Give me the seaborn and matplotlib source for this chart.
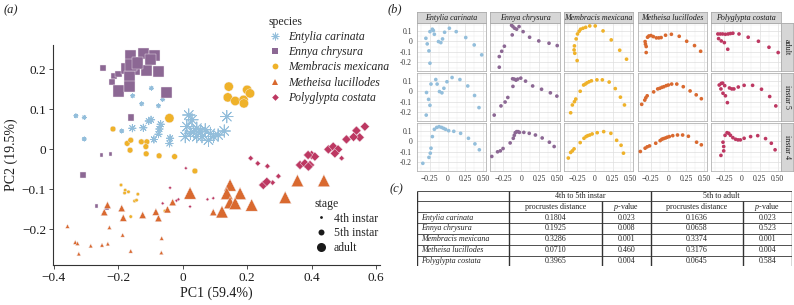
import matplotlib
matplotlib.use("Agg")
import numpy as np
import pandas as pd
import matplotlib.pyplot as plt
from matplotlib.lines import Line2D
from matplotlib.ticker import MultipleLocator
import seaborn as sns

# --- species / styling ---
SPECIES = ["Entylia carinata", "Ennya chrysura", "Membracis mexicana",
           "Metheisa lucillodes", "Polyglypta costata"]
COLORS = ["#93bedb", "#8c6894", "#efb22a", "#d9692f", "#bd3862"]
MARKERS = [(8, 2, 0), "s", "o", "^", "D"]
STAGES = ["4th instar", "5th instar", "adult"]
ROW_LABELS = ["adult", "instar 5", "instar 4"]

# --- panel (a): PCA scores, per species and stage ---
ENT_4_X = [-0.331, -0.305, -0.305, -0.155, -0.127, -0.097, -0.075, -0.062, -0.189]
ENT_4_Y = [0.083, 0.079, 0.025, 0.133, 0.113, 0.152, 0.108, 0.124, 0.045]
ENT_5_X = [-0.156, -0.122, -0.098, -0.068, -0.072, -0.075, -0.089, -0.039, -0.041, -0.105]
ENT_5_Y = [0.052, 0.053, 0.073, 0.062, 0.050, 0.037, 0.024, 0.027, 0.014, 0.070]
ENT_A_X = [0.019, 0.029, 0.013, 0.044, 0.024, 0.055, 0.070, 0.086, 0.060, 0.096,
           0.080, 0.044, 0.110, 0.137, 0.129, 0.008, 0.034]
ENT_A_Y = [0.085, 0.073, 0.056, 0.052, 0.039, 0.043, 0.048, 0.039, 0.031, 0.031,
           0.022, 0.031, 0.035, 0.081, 0.045, 0.031, 0.043]

ENN_4_X = [-0.252, -0.224, -0.267, -0.235]
ENN_4_Y = [-0.015, -0.012, -0.143, -0.148]
ENN_5_X = [-0.246, -0.214, -0.199, -0.220, -0.160, -0.310]
ENN_5_Y = [0.202, 0.183, 0.187, 0.167, 0.079, -0.065]
ENN_A_X = [-0.163, -0.120, -0.088, -0.075, -0.113, -0.149, -0.173, -0.165,
           -0.199, -0.165, -0.049, -0.101, -0.160, -0.140]
ENN_A_Y = [0.233, 0.238, 0.233, 0.193, 0.196, 0.198, 0.202, 0.181,
           0.145, 0.156, 0.142, 0.223, 0.210, 0.215]

MEM_4_X = [-0.191, -0.178, -0.168, -0.139, -0.149, -0.143, -0.161, -0.055, -0.180]
MEM_4_Y = [-0.090, -0.103, -0.107, -0.113, -0.130, -0.128, -0.169, -0.155, -0.110]
MEM_5_X = [-0.216, -0.172, -0.161, -0.128, -0.111, -0.114, -0.113, -0.073, -0.025, 0.038, -0.163]
MEM_5_Y = [0.050, 0.014, 0.022, 0.018, 0.018, 0.006, -0.012, -0.017, -0.019, -0.055, -0.003]
MEM_A_X = [0.143, 0.140, 0.163, 0.189, 0.200, 0.209, 0.190, -0.041]
MEM_A_Y = [0.156, 0.129, 0.120, 0.123, 0.148, 0.139, 0.114, 0.077]

MET_4_X = [-0.357, -0.227, -0.186, -0.065, -0.333, -0.326, -0.285, -0.250,
           -0.232, -0.161, -0.322, -0.066]
MET_4_Y = [-0.193, -0.196, -0.215, -0.223, -0.233, -0.236, -0.242, -0.240,
           -0.237, -0.255, -0.262, -0.259]
MET_5_X = [-0.233, -0.243, -0.189, -0.184, -0.124, -0.083, -0.075, -0.047, -0.031, 0.095]
MET_5_Y = [-0.140, -0.158, -0.148, -0.172, -0.165, -0.157, -0.173, -0.151, -0.133, -0.158]
MET_A_X = [0.023, 0.147, 0.137, 0.178, 0.147, 0.163, 0.122, 0.214, 0.318, 0.356, 0.438]
MET_A_Y = [-0.110, -0.090, -0.111, -0.111, -0.134, -0.136, -0.157, -0.140, -0.121, -0.079, -0.079]

POL_4_X = [0.010, -0.039, -0.062, -0.019, -0.013, 0.023, 0.077, 0.095]
POL_4_Y = [-0.048, -0.097, -0.136, -0.129, -0.126, -0.144, -0.126, -0.123]
POL_5_X = [0.211, 0.233, 0.263, 0.279, 0.297, 0.493]
POL_5_Y = [-0.023, -0.036, -0.043, -0.084, -0.068, -0.023]
POL_A_X = [0.452, 0.467, 0.482, 0.472, 0.508, 0.539, 0.549, 0.565, 0.530, 0.364,
           0.379, 0.395, 0.390, 0.400, 0.410, 0.389, 0.250, 0.261]
POL_A_Y = [-0.001, 0.006, -0.001, -0.011, 0.024, 0.046, 0.029, 0.056, 0.030, -0.040,
           -0.036, -0.040, -0.044, -0.015, -0.019, -0.015, -0.090, -0.082]

# --- panel (b): aligned outline coordinates, per species and stage ---
B_ENT_ADULT_X = [-0.306, -0.287, -0.263, -0.249, -0.249, -0.215, -0.201, -0.187, -0.129,
                 -0.096, -0.072, -0.043, 0.024, 0.120, 0.254, 0.373, 0.478]
B_ENT_ADULT_Y = [0.028, -0.025, -0.091, -0.208, 0.091, 0.114, 0.101, 0.066, -0.003,
                 -0.013, 0.022, 0.085, 0.123, 0.091, 0.035, -0.035, -0.129]
B_ENN_ADULT_X = [-0.309, -0.309, -0.275, -0.237, -0.127, -0.136, -0.117, -0.093, -0.065,
                 -0.031, 0.026, 0.117, 0.246, 0.390, 0.505]
B_ENN_ADULT_Y = [-0.246, -0.145, -0.095, -0.047, 0.060, 0.151, 0.139, 0.123, 0.114,
                 0.139, 0.091, 0.038, 0.003, -0.019, -0.041]
B_MEM_ADULT_X = [-0.287, -0.292, -0.282, -0.249, -0.263, -0.244, -0.220, -0.201, -0.167,
                 -0.129, -0.072, 0.005, 0.115, 0.230, 0.349, 0.445]
B_MEM_ADULT_Y = [-0.044, -0.082, -0.114, -0.183, 0.022, 0.069, 0.095, 0.114, 0.123,
                 0.132, 0.145, 0.145, 0.098, 0.013, -0.085, -0.170]
B_MET_ADULT_X = [-0.328, -0.323, -0.313, -0.313, -0.294, -0.275, -0.246, -0.213, -0.170,
                 -0.136, -0.103, -0.041, 0.041, 0.151, 0.256, 0.366, 0.452]
B_MET_ADULT_Y = [-0.003, -0.028, -0.050, -0.107, 0.038, 0.050, 0.054, 0.044, 0.032,
                 0.032, 0.035, 0.057, 0.066, 0.047, 0.000, -0.041, -0.095]
B_POL_ADULT_X = [-0.340, -0.306, -0.273, -0.234, -0.196, -0.163, -0.129, -0.043, -0.330,
                 -0.292, -0.249, -0.201, 0.086, 0.230, 0.378, 0.507]
B_POL_ADULT_Y = [0.069, 0.069, 0.069, 0.066, 0.069, 0.073, 0.076, 0.069, 0.025,
                 0.003, -0.013, -0.076, 0.038, 0.000, -0.057, -0.107]

B_ENT_I5_X = [-0.301, -0.297, -0.268, -0.249, -0.234, -0.167, -0.148, -0.115, -0.081,
              -0.053, -0.010, 0.062, 0.172, 0.282, 0.378, 0.440]
B_ENT_I5_Y = [-0.226, -0.012, -0.077, -0.133, 0.068, 0.111, 0.068, -0.003, -0.015,
              0.028, 0.090, 0.130, 0.111, 0.050, -0.040, -0.155]
B_ENN_I5_X = [-0.380, -0.285, -0.227, -0.189, -0.117, -0.122, -0.098, -0.074, -0.050,
              -0.007, 0.060, 0.160, 0.285, 0.409, 0.500]
B_ENN_I5_Y = [-0.226, -0.139, -0.102, -0.059, 0.046, 0.118, 0.115, 0.105, 0.115,
              0.124, 0.096, 0.050, 0.019, -0.015, -0.046]
B_MEM_I5_X = [-0.340, -0.316, -0.287, -0.268, -0.206, -0.158, -0.134, -0.110, -0.081,
              -0.048, 0.029, 0.105, 0.201, 0.287, 0.359, 0.416]
B_MEM_I5_Y = [-0.204, -0.130, -0.099, -0.074, 0.000, 0.059, 0.068, 0.080, 0.090,
              0.099, 0.108, 0.108, 0.087, 0.025, -0.056, -0.130]
B_MET_I5_X = [-0.376, -0.333, -0.318, -0.299, -0.208, -0.151, -0.122, -0.093, -0.065,
              -0.031, -0.002, 0.045, 0.117, 0.208, 0.304, 0.390, 0.462]
B_MET_I5_Y = [-0.124, -0.084, -0.062, -0.043, -0.006, 0.022, 0.028, 0.037, 0.043,
              0.053, 0.059, 0.068, 0.068, 0.043, 0.003, -0.034, -0.071]
B_POL_I5_X = [-0.321, -0.292, -0.273, -0.244, -0.297, -0.268, -0.234, -0.206, -0.177,
              -0.144, -0.115, -0.053, 0.029, 0.148, 0.273, 0.388, 0.474]
B_POL_I5_Y = [0.059, 0.074, 0.077, 0.053, 0.022, -0.019, -0.043, -0.108, 0.031,
              0.022, 0.022, 0.040, 0.056, 0.056, 0.019, -0.050, -0.139]

B_ENT_I4_X = [-0.349, -0.263, -0.244, -0.234, -0.215, -0.187, -0.153, -0.120, -0.086,
              -0.057, -0.029, 0.014, 0.086, 0.182, 0.292, 0.383, 0.445]
B_ENT_I4_Y = [-0.209, -0.153, -0.113, -0.066, 0.044, 0.113, 0.131, 0.138, 0.131,
              0.122, 0.113, 0.100, 0.094, 0.075, 0.028, -0.025, -0.081]
B_ENN_I4_X = [-0.414, -0.333, -0.294, -0.256, -0.156, -0.112, -0.098, -0.084, -0.065,
              -0.045, -0.026, 0.036, 0.112, 0.199, 0.294, 0.395, 0.462]
B_ENN_I4_Y = [-0.144, -0.100, -0.091, -0.069, -0.016, 0.028, 0.056, 0.081, 0.091,
              0.091, 0.084, 0.084, 0.075, 0.059, 0.031, -0.009, -0.050]
B_MEM_I4_X = [-0.373, -0.340, -0.316, -0.292, -0.206, -0.153, -0.124, -0.100, -0.072,
              -0.038, 0.033, 0.124, 0.225, 0.306, 0.368, 0.402]
B_MEM_I4_Y = [-0.159, -0.106, -0.091, -0.072, -0.013, 0.028, 0.044, 0.053, 0.059,
              0.069, 0.081, 0.091, 0.075, 0.009, -0.038, -0.113]
B_MET_I4_X = [-0.395, -0.328, -0.299, -0.266, -0.179, -0.117, -0.093, -0.069, -0.041,
              -0.017, 0.012, 0.060, 0.127, 0.199, 0.280, 0.395, 0.462]
B_MET_I4_Y = [-0.097, -0.066, -0.053, -0.044, -0.019, 0.006, 0.019, 0.025, 0.031,
              0.038, 0.044, 0.053, 0.059, 0.059, 0.047, -0.009, -0.034]
B_POL_I4_X = [-0.297, -0.258, -0.258, -0.268, -0.239, -0.211, -0.187, -0.163, -0.129,
              -0.091, -0.057, -0.024, 0.029, 0.120, 0.220, 0.330, 0.411, 0.464]
B_POL_I4_Y = [-0.134, -0.091, -0.050, -0.009, 0.056, 0.081, 0.075, 0.056, 0.034,
              0.019, 0.013, 0.013, 0.028, 0.044, 0.053, 0.025, -0.019, -0.081]

# --- panel (c): procrustes table ---
TABLE_SPECIES = SPECIES
DIST_4_TO_5 = ["0.1804", "0.1925", "0.3286", "0.0710", "0.3965"]
P_4_TO_5 = ["0.023", "0.008", "0.001", "0.460", "0.004"]
DIST_5_TO_ADULT = ["0.1636", "0.0658", "0.3374", "0.3176", "0.0645"]
P_5_TO_ADULT = ["0.023", "0.523", "0.001", "0.004", "0.584"]

sns.set_theme(style="white")
plt.rcParams["font.family"] = ["Liberation Serif", "DejaVu Serif"]
plt.rcParams["mathtext.fontset"] = "custom"
plt.rcParams["mathtext.rm"] = "Liberation Serif"
plt.rcParams["mathtext.it"] = "Liberation Serif:italic"

W, H = 794, 305
fig = plt.figure(figsize=(W / 100, H / 100), dpi=100)


def px_axes(left, top, w, h):
    return fig.add_axes([left / W, 1 - (top + h) / H, w / W, h / H])


def stage_frame(xs4, ys4, xs5, ys5, xsa, ysa):
    parts = [pd.DataFrame({"PC1": xs, "PC2": ys, "stage": st})
             for xs, ys, st in [(xs4, ys4, STAGES[0]), (xs5, ys5, STAGES[1]), (xsa, ysa, STAGES[2])]]
    return pd.concat(parts, ignore_index=True)


A_FRAMES = [
    stage_frame(ENT_4_X, ENT_4_Y, ENT_5_X, ENT_5_Y, ENT_A_X, ENT_A_Y),
    stage_frame(ENN_4_X, ENN_4_Y, ENN_5_X, ENN_5_Y, ENN_A_X, ENN_A_Y),
    stage_frame(MEM_4_X, MEM_4_Y, MEM_5_X, MEM_5_Y, MEM_A_X, MEM_A_Y),
    stage_frame(MET_4_X, MET_4_Y, MET_5_X, MET_5_Y, MET_A_X, MET_A_Y),
    stage_frame(POL_4_X, POL_4_Y, POL_5_X, POL_5_Y, POL_A_X, POL_A_Y),
]
# point areas per marker for 4th / 5th / adult
SIZES = [
    {"4th instar": 9, "5th instar": 28, "adult": 80},
    {"4th instar": 6, "5th instar": 20, "adult": 64},
    {"4th instar": 6, "5th instar": 17, "adult": 44},
    {"4th instar": 9, "5th instar": 26, "adult": 78},
    {"4th instar": 3, "5th instar": 8, "adult": 22},
]

# ---------------- panel (a) ----------------
ax = px_axes(53, 45, 327, 220)
for df, col, mk, sz in zip(A_FRAMES, COLORS, MARKERS, SIZES):
    if mk == (8, 2, 0):
        sns.scatterplot(data=df, x="PC1", y="PC2", size="stage", sizes=sz, size_order=STAGES,
                        marker=mk, color=col, linewidth=0.6, legend=False, ax=ax)
    else:
        sns.scatterplot(data=df, x="PC1", y="PC2", size="stage", sizes=sz, size_order=STAGES,
                        marker=mk, color=col, edgecolor="#f4eef2", linewidth=0.3, legend=False, ax=ax)
ax.set_xlim(-0.402, 0.612)
ax.set_ylim(-0.29, 0.26)
ax.set_xticks([-0.4, -0.2, 0, 0.2, 0.4, 0.6])
ax.set_xticklabels(["\u22120.4", "\u22120.2", "0", "0.2", "0.4", "0.6"])
ax.set_yticks([-0.2, -0.1, 0, 0.1, 0.2])
ax.set_yticklabels(["\u22120.2", "\u22120.1", "0", "0.1", "0.2"])
ax.tick_params(axis="both", which="major", length=3, width=0.6, color="#333333",
               labelsize=9.5, labelcolor="#1a1a1a", pad=2, bottom=True, left=True)
for side in ["top", "right"]:
    ax.spines[side].set_visible(False)
for side in ["left", "bottom"]:
    ax.spines[side].set_color("#333333")
    ax.spines[side].set_linewidth(0.8)
ax.set_xlabel("PC1 (59.4%)", fontsize=10, labelpad=2, color="#1a1a1a")
ax.set_ylabel("PC2 (19.5%)", fontsize=10, labelpad=3, color="#1a1a1a")

sp_handles = [Line2D([], [], linestyle="", marker=mk, color=col, markersize=ms,
                     markeredgewidth=(0.7 if mk == (8, 2, 0) else 0))
              for mk, col, ms in zip(MARKERS, COLORS, [5.5, 4.2, 4.2, 4.6, 3.4])]
leg1 = fig.legend(sp_handles, SPECIES, title="species", loc="upper left",
                  bbox_to_anchor=(263 / W, 1 - 10 / H), frameon=False,
                  prop={"style": "italic", "size": 8.5}, title_fontproperties={"size": 8.5},
                  handlelength=1.0, handletextpad=0.6, labelspacing=0.27, borderpad=0)
leg1._legend_box.align = "left"

st_handles = [Line2D([], [], linestyle="", marker="o", color="#1a1a1a", markersize=ms,
                     markeredgewidth=0) for ms in [2.0, 4.3, 6.5]]
leg2 = fig.legend(st_handles, STAGES, title="stage", loc="upper left",
                  bbox_to_anchor=(309 / W, 1 - 192 / H), frameon=False,
                  prop={"size": 8.5}, title_fontproperties={"size": 8.5},
                  handlelength=1.0, handletextpad=0.6, labelspacing=0.22, borderpad=0)
leg2._legend_box.align = "left"

fig.text(4 / W, 1 - 10 / H, "(a)", fontsize=9, style="italic", va="center", ha="left")
fig.text(388 / W, 1 - 9 / H, "(b)", fontsize=9, style="italic", va="center", ha="left")
fig.text(390 / W, 1 - 189 / H, "(c)", fontsize=9, style="italic", va="center", ha="left")

# ---------------- panel (b) ----------------
B_X = [[B_ENT_ADULT_X, B_ENN_ADULT_X, B_MEM_ADULT_X, B_MET_ADULT_X, B_POL_ADULT_X],
       [B_ENT_I5_X, B_ENN_I5_X, B_MEM_I5_X, B_MET_I5_X, B_POL_I5_X],
       [B_ENT_I4_X, B_ENN_I4_X, B_MEM_I4_X, B_MET_I4_X, B_POL_I4_X]]
B_Y = [[B_ENT_ADULT_Y, B_ENN_ADULT_Y, B_MEM_ADULT_Y, B_MET_ADULT_Y, B_POL_ADULT_Y],
       [B_ENT_I5_Y, B_ENN_I5_Y, B_MEM_I5_Y, B_MET_I5_Y, B_POL_I5_Y],
       [B_ENT_I4_Y, B_ENN_I4_Y, B_MEM_I4_Y, B_MET_I4_Y, B_POL_I4_Y]]

COL_LEFT, COL_STEP, COL_W = 416.7, 73.6, 69.4
ROW_TOP, ROW_STEP, ROW_H = 23.3, 50.0, 47.4
STRIP_FC, STRIP_EC = "#d6d6d6", "#ababab"

for r in range(3):
    for c in range(5):
        bx = px_axes(COL_LEFT + c * COL_STEP, ROW_TOP + r * ROW_STEP, COL_W, ROW_H)
        sns.scatterplot(x=B_X[r][c], y=B_Y[r][c], color=COLORS[c], s=7, edgecolor="none",
                        legend=False, ax=bx, zorder=3)
        bx.set_xlim(-0.435, 0.54)
        bx.set_ylim(-0.279, 0.17)
        bx.xaxis.set_major_locator(MultipleLocator(0.25))
        bx.xaxis.set_minor_locator(MultipleLocator(0.125))
        bx.yaxis.set_major_locator(MultipleLocator(0.1))
        bx.yaxis.set_minor_locator(MultipleLocator(0.05))
        bx.grid(True, which="major", color="#dedede", linewidth=0.5)
        bx.grid(True, which="minor", color="#ededed", linewidth=0.35)
        bx.set_axisbelow(True)
        for s in bx.spines.values():
            s.set_color("#b3b3b3")
            s.set_linewidth(0.6)
        bx.tick_params(which="both", length=0, labelsize=5.5, pad=1.5, labelcolor="#333333")
        bx.tick_params(which="major", length=1.8, width=0.5, color="#b3b3b3")
        bx.set_xticks([-0.25, 0, 0.25, 0.5])
        bx.set_yticks([-0.2, -0.1, 0, 0.1])
        if r == 2:
            bx.set_xticklabels(["\u22120.25", "0", "0.25", "0.50"])
        else:
            bx.set_xticklabels([])
            bx.tick_params(axis="x", which="major", length=0)
        if c == 0:
            bx.set_yticklabels(["-0.2", "-0.1", "0", "0.1"])
        else:
            bx.set_yticklabels([])
            bx.tick_params(axis="y", which="major", length=0)
        bx.set_xlabel("")
        bx.set_ylabel("")

# column strips
for c in range(5):
    st = px_axes(COL_LEFT + c * COL_STEP, 12.0, COL_W, 11.3)
    st.set_facecolor(STRIP_FC)
    st.set_xticks([])
    st.set_yticks([])
    for s in st.spines.values():
        s.set_color(STRIP_EC)
        s.set_linewidth(0.6)
    st.text(0.5, 0.45, SPECIES[c], transform=st.transAxes, ha="center", va="center",
            fontsize=5.8, style="italic", color="#1a1a1a")

# row strips
for r in range(3):
    st = px_axes(COL_LEFT + 4 * COL_STEP + COL_W + 0.8, ROW_TOP + r * ROW_STEP, 11.5, ROW_H)
    st.set_facecolor(STRIP_FC)
    st.set_xticks([])
    st.set_yticks([])
    for s in st.spines.values():
        s.set_color(STRIP_EC)
        s.set_linewidth(0.6)
    st.text(0.5, 0.5, ROW_LABELS[r], transform=st.transAxes, ha="center", va="center",
            fontsize=5.8, rotation=270, color="#1a1a1a")

# ---------------- panel (c) ----------------
TL, TT, TW, TH = 416.7, 191.3, 375.0, 75.0
tx = px_axes(TL, TT, TW, TH)
tx.set_xlim(0, TW)
tx.set_ylim(TH, 0)
tx.axis("off")
col_edges = [0, 92.6, 185.0, 234.0, 326.6, TW]
row_edges = [0, 10.0, 20.7, 31.7, 42.4, 53.4, 64.4, TH]
line_c = "#333333"
tx.hlines(row_edges, 0, TW, color=line_c, linewidth=0.6)
tx.vlines([0, col_edges[1], col_edges[3], TW], 0, TH, color=line_c, linewidth=1.0)
tx.vlines([col_edges[2], col_edges[4]], row_edges[1], TH, color=line_c, linewidth=1.0)

fs = 5.8
mid = lambda a, b: (a + b) / 2
tx.text(mid(col_edges[1], col_edges[3]), mid(row_edges[0], row_edges[1]), "4th to 5th instar",
        ha="center", va="center", fontsize=fs)
tx.text(mid(col_edges[3], col_edges[5]), mid(row_edges[0], row_edges[1]), "5th to adult",
        ha="center", va="center", fontsize=fs)
for a, b, lab in [(1, 2, "procrustes distance"), (2, 3, "$p$-value"),
                  (3, 4, "procrustes distance"), (4, 5, "$p$-value")]:
    tx.text(mid(col_edges[a], col_edges[b]), mid(row_edges[1], row_edges[2]), lab,
            ha="center", va="center", fontsize=fs)
for i, name in enumerate(TABLE_SPECIES):
    yc = mid(row_edges[i + 2], row_edges[i + 3])
    tx.text(4, yc, name, ha="left", va="center", fontsize=fs, style="italic")
    for j, val in enumerate([DIST_4_TO_5[i], P_4_TO_5[i], DIST_5_TO_ADULT[i], P_5_TO_ADULT[i]]):
        tx.text(mid(col_edges[j + 1], col_edges[j + 2]), yc, val, ha="center", va="center", fontsize=fs)

fig.savefig("out.png", dpi=100)
